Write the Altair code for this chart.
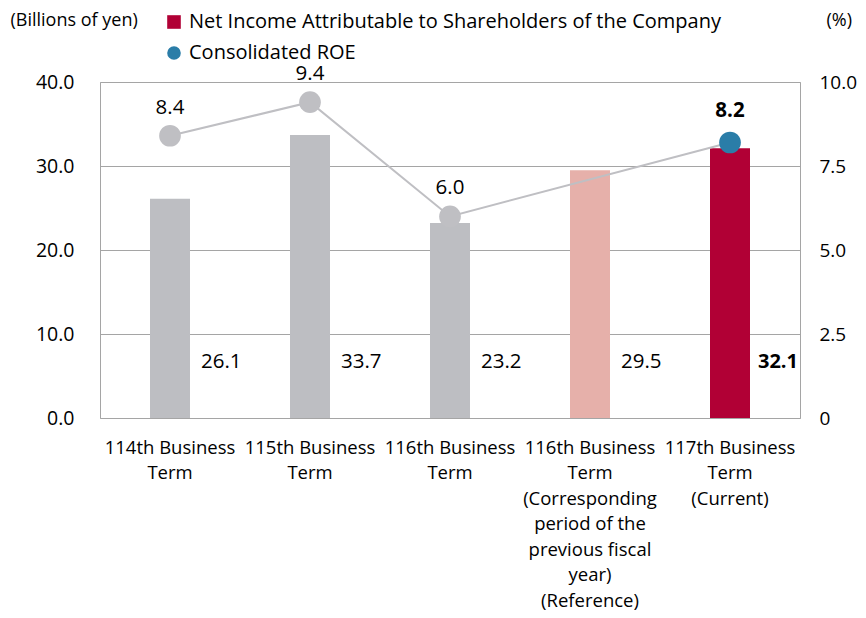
import altair as alt
import pandas as pd

categories = [
    "114th Business|Term",
    "115th Business|Term",
    "116th Business|Term",
    "116th Business|Term|(Corresponding|period of the|previous fiscal|year)|(Reference)",
    "117th Business|Term|(Current)",
]
net_income = [26.1, 33.7, 23.2, 29.5, 32.1]
roe = [8.4, 9.4, 6.0, None, 8.2]
bar_colors = ["#BDBEC2", "#BDBEC2", "#BDBEC2", "#E6B0AA", "#B10035"]
point_colors = ["#BFBFC3", "#BFBFC3", "#BFBFC3", "#BFBFC3", "#2A7DA8"]
emphasis = ["normal", "normal", "normal", "normal", "bold"]
series = ["Net Income Attributable to Shareholders of the Company", "Consolidated ROE"]
series_colors = ["#B10035", "#2A7DA8"]
series_shapes = ["square", "circle"]

FONT = "Open Sans"

df = pd.DataFrame({
    "cat": categories,
    "ni": net_income,
    "roe": roe,
    "bc": bar_colors,
    "pc": point_colors,
    "w": emphasis,
})
roe_df = df.dropna(subset=["roe"])
leg_df = pd.DataFrame({"s": series})

x = alt.X(
    "cat:N", sort=categories,
    scale=alt.Scale(paddingInner=0, paddingOuter=0),
    axis=alt.Axis(
        title=None, labelAngle=0, ticks=False, domain=False,
        labelExpr="split(datum.label, '|')", labelLineHeight=25.5,
        labelFontSize=18.5, labelPadding=20, labelOverlap=False,
        labelLimit=300, labelColor="#000000", labelFont=FONT,
    ),
)

yl_axis = alt.Axis(
    values=[0, 10, 20, 30, 40], format=".1f", grid=True, ticks=False, domain=False,
    gridColor="#A5A5A5", labelFontSize=19.5, labelPadding=26, labelColor="#000000",
    labelFont=FONT, title="(Billions of yen)", titleAngle=0, titleX=-90, titleY=-62,
    titleAlign="left", titleBaseline="middle", titleFontSize=18,
    titleFontWeight="normal", titleFont=FONT, titleColor="#000000",
)
yl = alt.Y("ni:Q", scale=alt.Scale(domain=[0, 40], nice=False), axis=yl_axis)

yr_axis = alt.Axis(
    orient="right", values=[0, 2.5, 5, 7.5, 10],
    labelExpr="datum.value == 0 ? '0' : format(datum.value, '.1f')",
    grid=False, ticks=False, domain=False, labelFontSize=19, labelPadding=19,
    labelColor="#000000", labelFont=FONT, title="(%)", titleAngle=0, titleX=26,
    titleY=-62, titleAlign="left", titleBaseline="middle", titleFontSize=18,
    titleFontWeight="normal", titleFont=FONT, titleColor="#000000",
)
yr = alt.Y("roe:Q", scale=alt.Scale(domain=[0, 10], nice=False), axis=yr_axis)

bars = alt.Chart(df).mark_bar(size=40).encode(
    x=x, y=yl, fill=alt.Fill("bc:N", scale=None)
)
bar_lab_n = alt.Chart(df).transform_filter("datum.w == 'normal'").mark_text(
    align="left", baseline="middle", dx=31, fontSize=20.5, font=FONT, color="#000000"
).encode(x=x, y=alt.value(280), text=alt.Text("ni:Q", format=".1f"))
bar_lab_b = alt.Chart(df).transform_filter("datum.w == 'bold'").mark_text(
    align="left", baseline="middle", dx=28, fontSize=20, font=FONT, color="#000000",
    fontWeight="bold",
).encode(x=x, y=alt.value(280), text=alt.Text("ni:Q", format=".1f"))

line = alt.Chart(roe_df).mark_line(color="#BFBFC3", strokeWidth=2).encode(x=x, y=yr)
pts = alt.Chart(roe_df).mark_point(filled=True, size=470, opacity=1).encode(
    x=x, y=yr, fill=alt.Fill("pc:N", scale=None), color=alt.value(None)
)
roe_lab_n = alt.Chart(roe_df).transform_filter("datum.w == 'normal'").mark_text(
    baseline="middle", dy=-28, fontSize=20.5, font=FONT, color="#000000"
).encode(x=x, y=yr, text=alt.Text("roe:Q", format=".1f"))
roe_lab_b = alt.Chart(roe_df).transform_filter("datum.w == 'bold'").mark_text(
    baseline="middle", dy=-31, fontSize=20.5, font=FONT, color="#000000", fontWeight="bold"
).encode(x=x, y=yr, text=alt.Text("roe:Q", format=".1f"))

# legend-only layer: its marks sit outside the canvas, only the legend shows
legend_layer = alt.Chart(leg_df).mark_point(filled=True, opacity=1).encode(
    x=alt.value(-400), y=alt.value(-400),
    color=alt.Color(
        "s:N",
        scale=alt.Scale(domain=series, range=series_colors),
        legend=alt.Legend(
            orient="none", legendX=64, legendY=-70, title=None, symbolOpacity=1,
            symbolSize=185, labelFontSize=20, labelFont=FONT, labelColor="#000000",
            rowPadding=11, labelOffset=5, labelLimit=800, symbolStrokeWidth=0,
        ),
    ),
    shape=alt.Shape("s:N", scale=alt.Scale(domain=series, range=series_shapes)),
)

left = alt.layer(bars, bar_lab_n, bar_lab_b)
right = alt.layer(line, pts, roe_lab_n, roe_lab_b)

chart = alt.layer(left, right, legend_layer).resolve_scale(y="independent").properties(
    width=700, height=336,
    autosize=alt.AutoSizeParams(type="none"),
    padding={"left": 92, "top": 74, "right": 58, "bottom": 192},
).configure_view(stroke="#A5A5A5", strokeWidth=1)

chart.save("out.html", embed_options={"renderer": "svg", "actions": False})
